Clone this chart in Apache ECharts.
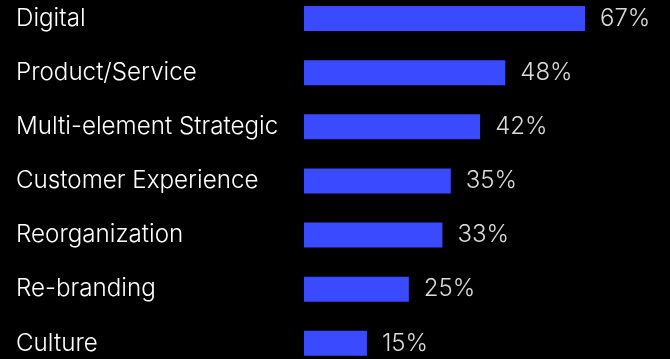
<!DOCTYPE html>
<html>
<head>
<meta charset="utf-8">
<script src="https://cdn.jsdelivr.net/npm/echarts@6/dist/echarts.min.js"></script>
<style>
  html, body { margin: 0; padding: 0; background: #000; overflow: hidden; width: 670px; height: 359px; }
  #chart { position: absolute; left: 0; top: -9px; width: 670px; height: 380px; }
</style>
</head>
<body>
<div id="chart"></div>
<script>
// Share of transformation initiatives by type (%)
const categories = [
  'Digital',
  'Product/Service',
  'Multi-element Strategic',
  'Customer Experience',
  'Reorganization',
  'Re-branding',
  'Culture'
];
const values = [67, 48, 42, 35, 33, 25, 15];

const chart = echarts.init(document.getElementById('chart'));
chart.setOption({
  backgroundColor: '#000000',
  animation: false,
  grid: { left: 304, right: 30.5, top: 0.45, bottom: 0.65, containLabel: false },
  xAxis: {
    type: 'value',
    min: 0,
    max: 80,
    show: false
  },
  yAxis: {
    type: 'category',
    data: categories,
    inverse: true,
    axisLine: { show: false },
    axisTick: { show: false },
    splitLine: { show: false },
    axisLabel: {
      align: 'left',
      margin: 288,
      color: '#ffffff',
      fontFamily: 'Inter',
      fontSize: 24.2,
      fontWeight: 300
    }
  },
  series: [{
    type: 'bar',
    data: values,
    barWidth: 25,
    itemStyle: { color: '#3A4BFF' },
    label: {
      show: true,
      position: 'right',
      distance: 15,
      formatter: '{c}%',
      color: '#dadada',
      fontFamily: 'Inter',
      fontSize: 24,
      fontWeight: 300
    }
  }]
});
</script>
</body>
</html>
